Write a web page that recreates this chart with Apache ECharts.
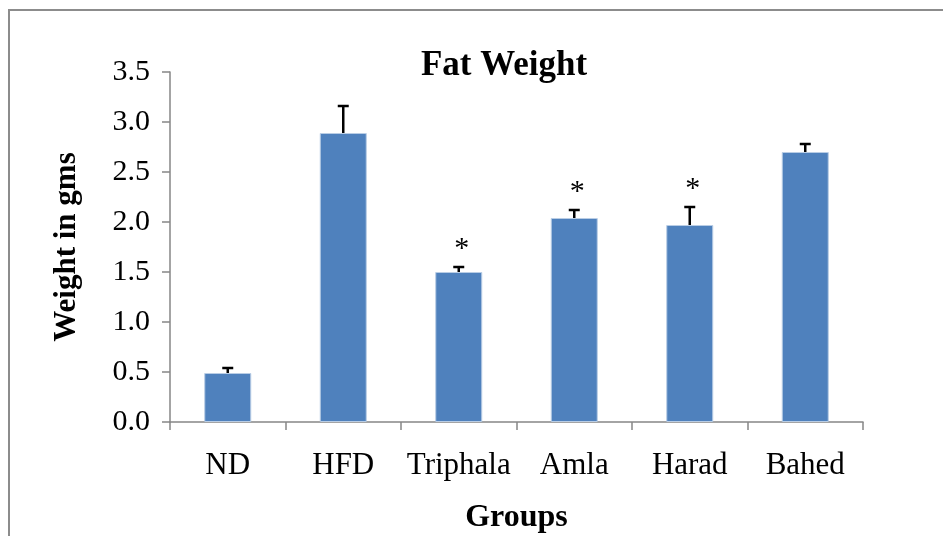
<!DOCTYPE html>
<html>
<head>
<meta charset="utf-8">
<script src="https://cdn.jsdelivr.net/npm/echarts@6/dist/echarts.min.js"></script>
<style>
  html, body { margin: 0; padding: 0; background: #fff; }
  #chart { width: 943px; height: 536px; }
</style>
</head>
<body>
<div id="chart"></div>
<script>
// Fat weight per treatment group (mean ± SEM, grams)
const groups = ['ND', 'HFD', 'Triphala', 'Amla', 'Harad', 'Bahed'];
const meanWeight = [0.49, 2.89, 1.50, 2.04, 1.97, 2.70];
const semWeight = [0.05, 0.27, 0.05, 0.08, 0.18, 0.08];
const significant = [false, false, true, true, true, false];
const yTicks = [0, 0.5, 1.0, 1.5, 2.0, 2.5, 3.0, 3.5];

const serif = '"Liberation Serif", "Times New Roman", serif';
const axisGrey = '#868686';

const errorData = groups.map((g, i) => [i, meanWeight[i], semWeight[i], significant[i] ? 1 : 0]);

const chart = echarts.init(document.getElementById('chart'), null, { renderer: 'canvas' });

chart.setOption({
  backgroundColor: '#ffffff',
  animation: false,
  title: {
    text: 'Fat Weight',
    left: 499,
    top: 43,
    textAlign: 'center',
    textStyle: { fontFamily: serif, fontWeight: 'bold', fontSize: 35, color: '#000' }
  },
  graphic: [
    {
      type: 'polyline',
      shape: { points: [[9, 536], [9, 10], [943, 10]] },
      style: { stroke: '#8c8c8c', lineWidth: 2, fill: null },
      silent: true
    }
  ],
  grid: { left: 170, right: 80, top: 72, bottom: 114, containLabel: false, outerBoundsMode: 'none' },
  xAxis: {
    type: 'category',
    data: groups,
    name: 'Groups',
    nameLocation: 'middle',
    nameGap: 80,
    nameTextStyle: { fontFamily: serif, fontWeight: 'bold', fontSize: 32, color: '#000' },
    axisLine: { lineStyle: { color: axisGrey, width: 1.5 } },
    axisTick: { show: true, interval: 0, length: 8, lineStyle: { color: axisGrey, width: 1.5 } },
    axisLabel: { interval: 0, fontFamily: serif, fontSize: 31, color: '#000', margin: 28 }
  },
  yAxis: {
    type: 'value',
    min: yTicks[0],
    max: yTicks[yTicks.length - 1],
    interval: 0.5,
    name: 'Weight in gms',
    nameLocation: 'middle',
    nameGap: 88,
    nameTextStyle: { fontFamily: serif, fontWeight: 'bold', fontSize: 31, color: '#000' },
    axisLine: { show: true, lineStyle: { color: axisGrey, width: 1.5 } },
    axisTick: { show: true, length: 8, lineStyle: { color: axisGrey, width: 1.5 } },
    splitLine: { show: false },
    axisLabel: {
      fontFamily: serif, fontSize: 30, color: '#000', margin: 20,
      formatter: v => v.toFixed(1)
    }
  },
  series: [
    {
      type: 'bar',
      data: meanWeight,
      barWidth: 47,
      itemStyle: { color: '#4F81BD', borderColor: '#b9cde5', borderWidth: 1 }
    },
    {
      type: 'custom',
      data: errorData,
      z: 10,
      renderItem: function (params, api) {
        const i = api.value(0);
        const m = api.value(1);
        const e = api.value(2);
        const star = api.value(3);
        const base = api.coord([i, m]);
        const top = api.coord([i, m + e]);
        const cap = 5.5;
        const children = [
          {
            type: 'line',
            shape: { x1: base[0], y1: base[1], x2: top[0], y2: top[1] },
            style: { stroke: '#000', lineWidth: 2.5 }
          },
          {
            type: 'line',
            shape: { x1: top[0] - cap, y1: top[1], x2: top[0] + cap, y2: top[1] },
            style: { stroke: '#000', lineWidth: 2.5 }
          }
        ];
        if (star) {
          children.push({
            type: 'text',
            style: {
              text: '*',
              x: top[0] + 3,
              y: top[1] - 3,
              textAlign: 'center',
              textVerticalAlign: 'bottom',
              font: '30px ' + serif,
              fill: '#000'
            }
          });
        }
        return { type: 'group', children: children };
      }
    }
  ]
});
</script>
</body>
</html>
